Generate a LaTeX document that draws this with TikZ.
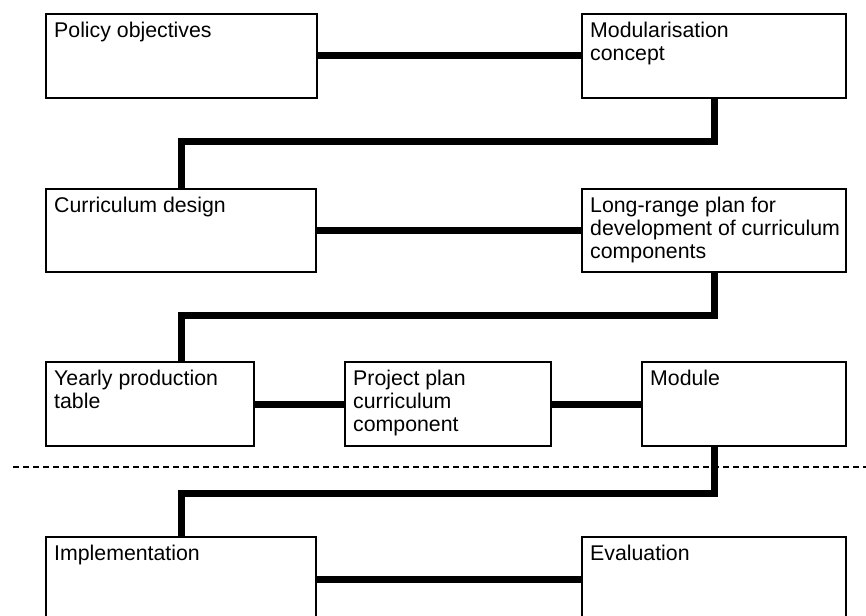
\documentclass[tikz,border=0pt]{standalone}
\usepackage{fontspec}
\setmainfont{Liberation Sans}
\begin{document}
\begin{tikzpicture}[x=1pt,y=-1pt,
  box/.style={draw, line width=2pt, rectangle, inner sep=0pt, anchor=north west},
  label/.style={anchor=north west, inner sep=0pt, align=left,
    font=\fontsize{21.3}{23}\selectfont},
  conn/.style={line width=7pt, line join=miter},
  divider/.style={line width=1.3pt, dash pattern=on 6pt off 4pt}]
\clip (0,0) rectangle (866,615);

% boxes
\node[box, minimum width=271pt, minimum height=84pt] (pol) at (45,13) {};
\node[box, minimum width=264pt, minimum height=84pt] (mod) at (581,13) {};
\node[box, minimum width=270pt, minimum height=83pt] (cur) at (45,188) {};
\node[box, minimum width=264pt, minimum height=83pt] (lrp) at (581,188) {};
\node[box, minimum width=208pt, minimum height=84pt] (yea) at (45,361) {};
\node[box, minimum width=206pt, minimum height=84pt] (prj) at (344,361) {};
\node[box, minimum width=204pt, minimum height=84pt] (mdl) at (641,361) {};
\node[box, minimum width=270pt, minimum height=84pt] (imp) at (45,536) {};
\node[box, minimum width=264pt, minimum height=84pt] (eva) at (581,536) {};

% box texts
\node[label] (tpol) at ([shift={(9,8)}]pol.north west) {\strut Policy objectives};
\node[label] (tmod) at ([shift={(9,8)}]mod.north west) {\strut Modularisation\\concept};
\node[label] (tcur) at ([shift={(9,8)}]cur.north west) {\strut Curriculum design};
\node[label] (tlrp) at ([shift={(9,8)}]lrp.north west) {\strut Long-range plan for\\development of curriculum\\components};
\node[label] (tyea) at ([shift={(9,8)}]yea.north west) {\strut Yearly production\\table};
\node[label] (tprj) at ([shift={(9,8)}]prj.north west) {\strut Project plan\\curriculum\\component};
\node[label] (tmdl) at ([shift={(9,8)}]mdl.north west) {\strut Module};
\node[label] (timp) at ([shift={(9,8)}]imp.north west) {\strut Implementation};
\node[label] (teva) at ([shift={(9,8)}]eva.north west) {\strut Evaluation};

% elbow levels and divider ends
\coordinate (e1) at (0,141);
\coordinate (e2) at (0,315);
\coordinate (e3) at (0,493);
\coordinate (dl) at (13,467);
\coordinate (dr) at (866,467);

% connectors
\draw[conn] (pol.east) -- (mod.west);
\draw[conn] (mod.south) |- (e1 -| cur.north) -- (cur.north);
\draw[conn] (cur.east) -- (lrp.west);
\draw[conn] (lrp.south) |- (e2 -| cur.north) -- (yea.north -| cur.north);
\draw[conn] (yea.east) -- (prj.west);
\draw[conn] (prj.east) -- (mdl.west);
\draw[conn] (mdl.south -| lrp.south) |- (e3 -| cur.north) -- (imp.north -| cur.north);
\draw[conn] (imp.east) -- (eva.west);

% divider
\draw[divider] (dl) -- (dr);
\end{tikzpicture}
\end{document}
